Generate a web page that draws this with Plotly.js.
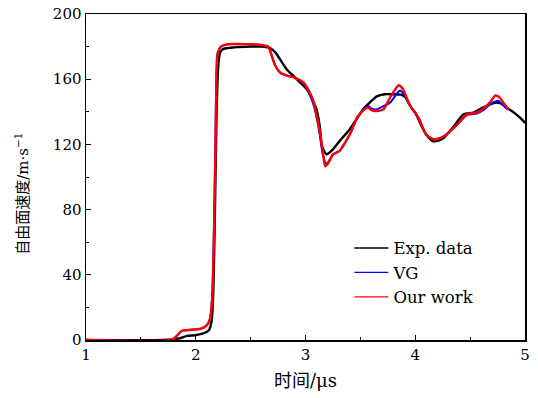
<!DOCTYPE html>
<html>
<head>
<meta charset="utf-8">
<script src="https://cdn.plot.ly/plotly-3.0.1.min.js"></script>
<style>html,body{margin:0;padding:0;background:#fff;}#chart{width:538px;height:398px;}</style>
</head>
<body>
<div id="chart"></div>
<script>
// Exp. data (black)
const expX = [1.0, 1.7, 1.85, 1.92, 2.0, 2.07, 2.12, 2.145, 2.16, 2.175, 2.19, 2.205, 2.22, 2.25, 2.35, 2.5, 2.6, 2.68, 2.73, 2.77, 2.83, 2.89, 2.95, 3.01, 3.06, 3.1, 3.13, 3.15, 3.19, 3.25, 3.31, 3.4, 3.47, 3.53, 3.59, 3.65, 3.72, 3.8, 3.87, 3.91, 3.96, 4.0, 4.06, 4.1, 4.16, 4.22, 4.26, 4.35, 4.44, 4.53, 4.6, 4.68, 4.74, 4.8, 4.83, 4.9, 4.99, 5.0];
const expY = [0, 0, 1, 2.5, 3, 4, 6, 12, 30, 80, 140, 168, 176, 178.5, 179.5, 180, 180, 179, 176, 172, 166, 162, 158, 154, 148, 141.5, 131, 119, 114, 117, 122, 129, 136, 142, 146, 149.5, 150.8, 150.8, 150.5, 149, 143, 139.5, 131, 126, 122, 122.5, 124, 131, 138.5, 139.5, 142, 144.6, 145.6, 144.5, 142.6, 139.5, 134, 133];

// VG (blue)
const vgX = [1.0, 1.78, 1.82, 1.87, 1.9, 2.0, 2.05, 2.1, 2.13, 2.15, 2.165, 2.18, 2.19, 2.2, 2.23, 2.3, 2.45, 2.6, 2.66, 2.69, 2.72, 2.77, 2.84, 2.9, 2.98, 3.03, 3.07, 3.1, 3.13, 3.16, 3.19, 3.21, 3.25, 3.31, 3.36, 3.41, 3.47, 3.53, 3.57, 3.6, 3.65, 3.71, 3.77, 3.82, 3.86, 3.9, 3.95, 4.03, 4.1, 4.17, 4.26, 4.38, 4.47, 4.56, 4.63, 4.68, 4.72, 4.76, 4.8, 4.84];
const vgY = [0, 0, 2, 5.5, 6, 6.5, 7, 9, 13, 27, 65, 125, 167, 176, 180, 181.5, 181.5, 181, 180, 175, 169, 164, 162, 161, 157.5, 152, 145, 137, 126, 113, 108, 109.5, 113.8, 116, 121, 127, 136, 141.5, 143.6, 142, 141.5, 143.5, 145.6, 150, 153, 150.5, 144, 136, 126, 123, 125, 132, 138, 139, 141.5, 144.6, 146, 146.7, 144, 141.5];

// Our work (red)
const ourX = [1.0, 1.78, 1.82, 1.87, 1.9, 2.0, 2.05, 2.1, 2.13, 2.15, 2.165, 2.18, 2.19, 2.2, 2.23, 2.3, 2.45, 2.6, 2.66, 2.69, 2.72, 2.77, 2.84, 2.9, 2.98, 3.03, 3.07, 3.1, 3.13, 3.16, 3.18, 3.21, 3.25, 3.31, 3.36, 3.41, 3.47, 3.53, 3.57, 3.6, 3.65, 3.71, 3.77, 3.82, 3.85, 3.89, 3.95, 4.03, 4.1, 4.17, 4.26, 4.38, 4.47, 4.56, 4.65, 4.7, 4.73, 4.77, 4.81, 4.85];
const ourY = [0, 0, 2, 5.5, 6, 6.5, 7, 9, 13, 25, 60, 120, 165, 176, 180, 181.5, 181.5, 181, 180, 175, 169, 164, 162, 161, 158, 153, 147, 138, 128, 114, 106.5, 108.7, 113.8, 116, 121, 127, 136.5, 141, 142.6, 141, 140.5, 141.5, 148.7, 154, 156.3, 153.8, 144, 136.4, 126, 123, 125, 132, 138.5, 139.5, 143.6, 147.5, 150, 148.7, 145, 141.5];

const xTicks = [1, 2, 3, 4, 5];
const yTicks = [0, 40, 80, 120, 160, 200];
const seriesNames = ["Exp. data", "VG", "Our work"];
const seriesColors = ["#000000", "#0000ff", "#ff0000"];
const xTitle = "时间/μs";
const yTitle = "自由面速度/m·s<sup>−1</sup>";

const serif = "DejaVu Serif, Liberation Serif, Noto Sans CJK SC, serif";

const dataSets = [[expX, expY, 2.4], [vgX, vgY, 2], [ourX, ourY, 2.4]];
const traces = [];
dataSets.forEach((d, i) => {
  traces.push({x: d[0], y: d[1], name: seriesNames[i], mode: "lines", showlegend: false,
               line: {color: seriesColors[i], width: d[2], shape: "spline", smoothing: 0.6}});
});
// legend entries drawn with thin lines, as in the reference
seriesNames.forEach((n, i) => {
  traces.push({x: [null], y: [null], name: n, mode: "lines", showlegend: true,
               line: {color: seriesColors[i], width: 1.3}});
});

const axisCommon = {
  showgrid: false, zeroline: false, showline: true, linecolor: "#000", linewidth: 1.5,
  mirror: true, ticks: "inside", ticklen: 5, tickwidth: 1, tickcolor: "#000",
  tickfont: {family: serif, size: 15, color: "#000"}
};

const layout = {
  width: 538, height: 398,
  margin: {l: 86, r: 13, t: 14, b: 58},
  paper_bgcolor: "#fff", plot_bgcolor: "#fff",
  showlegend: true,
  legend: {x: 0.6, y: 0.335, xanchor: "left", yanchor: "top", bgcolor: "rgba(0,0,0,0)",
           font: {family: serif, size: 16.5, color: "#000"}, itemwidth: 34, tracegroupgap: 0},
  xaxis: Object.assign({}, axisCommon, {
    range: [1, 5], tickvals: xTicks, ticktext: xTicks.map(String),
    minor: {ticks: "inside", ticklen: 3, tickwidth: 1, tickcolor: "#000", dtick: 0.5, tick0: 1},
    title: {text: xTitle, font: {family: serif, size: 18, color: "#000"}, standoff: 12}
  }),
  yaxis: Object.assign({}, axisCommon, {
    range: [0, 200], tickvals: yTicks, ticktext: yTicks.map(String),
    minor: {ticks: "inside", ticklen: 3, tickwidth: 1, tickcolor: "#000", dtick: 20, tick0: 0}
  }),
  annotations: [{
    text: yTitle, xref: "paper", yref: "paper", x: -0.146, y: 0.255,
    xanchor: "center", yanchor: "bottom", textangle: -90, showarrow: false,
    font: {family: serif, size: 15, color: "#000"}
  }]
};

Plotly.newPlot("chart", traces, layout, {displayModeBar: false, staticPlot: true});
</script>
</body>
</html>
